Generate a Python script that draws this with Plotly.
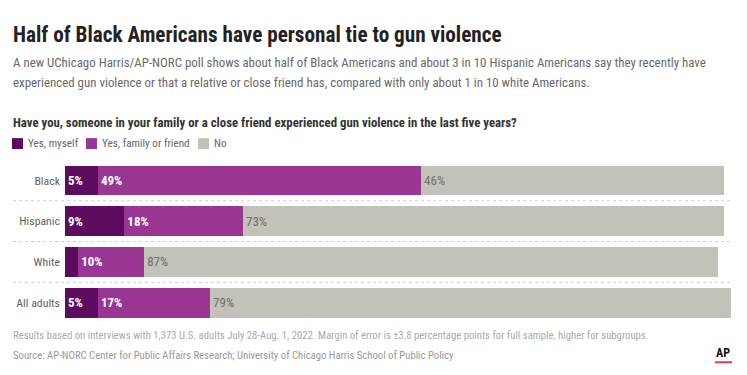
import plotly.graph_objects as go

# ---- data ----
categories = ["Black", "Hispanic", "White", "All adults"]
series_names = ["Yes, myself", "Yes, family or friend", "No"]
yes_myself = [5, 9, 2, 5]
yes_family = [49, 18, 10, 17]
no_answer = [46, 73, 87, 79]
series_values = [yes_myself, yes_family, no_answer]
series_colors = ["#5c0b5e", "#993593", "#c3c2b8"]
label_colors = ["#ffffff", "#ffffff", "#6e6e6e"]
label_bold = [True, True, False]

title = "Half of Black Americans have personal tie to gun violence"
subtitle_lines = [
    "A new UChicago Harris/AP-NORC poll shows about half of Black Americans and about 3 in 10 Hispanic Americans say they recently have",
    "experienced gun violence or that a relative or close friend has, compared with only about 1 in 10 white Americans.",
]
question = "Have you, someone in your family or a close friend experienced gun violence in the last five years?"
footnote = "Results based on interviews with 1,373 U.S. adults July 28-Aug. 1, 2022. Margin of error is ±3.8 percentage points for full sample, higher for subgroups."
source = "Source: AP-NORC Center for Public Affairs Research; University of Chicago Harris School of Public Policy"

FONT = "Roboto Condensed, Roboto, sans-serif"
W, H = 747, 375
ML, MR, MT, MB = 65, 16, 159.5, 51.5
PW, PH = W - ML - MR, H - MT - MB


def px(x):
    return (x - ML) / PW


def py(y):
    return (H - MB - y) / PH


fig = go.Figure()
for name, vals, col, lcol, bold in zip(series_names, series_values, series_colors, label_colors, label_bold):
    fig.add_trace(go.Bar(
        y=categories, x=vals, name=name, orientation="h",
        marker=dict(color=col, line=dict(width=0)),
        text=[f"{v}%" for v in vals],
        textposition="inside", insidetextanchor="start", textangle=0,
        insidetextfont=dict(family=FONT, size=13, color=lcol, weight="bold" if bold else "normal"),
        hoverinfo="skip", showlegend=False,
    ))

fig.update_layout(
    width=W, height=H, barmode="stack", bargap=0.27,
    margin=dict(l=ML, r=MR, t=MT, b=MB, pad=0),
    paper_bgcolor="white", plot_bgcolor="white",
    uniformtext=dict(minsize=13, mode="hide"),
    xaxis=dict(range=[0, 101], visible=False, fixedrange=True),
    yaxis=dict(autorange="reversed", categoryorder="array", categoryarray=categories,
               showgrid=False, zeroline=False, showline=False, ticks="", ticklabelstandoff=4,
               tickfont=dict(family=FONT, size=11.8, color="#5f5f5f"), fixedrange=True),
    font=dict(family=FONT),
)

# dotted separators between rows
for i in range(len(categories) - 1):
    fig.add_shape(type="line", xref="paper", yref="y", x0=px(13), x1=px(731), y0=i + 0.5, y1=i + 0.5,
                  line=dict(color="#cfcfcf", width=1, dash="dot"), layer="below")

ann = []


def text(x, y, s, size, color, bold=False, xanchor="left"):
    ann.append(dict(x=px(x), y=py(y), xref="paper", yref="paper", xanchor=xanchor, yanchor="middle",
                    showarrow=False, text=s, align="left",
                    font=dict(family=FONT, size=size, color=color, weight="bold" if bold else "normal")))


text(11, 33, title, 21.2, "#222222", bold=True)
text(11, 61.5, subtitle_lines[0], 12.9, "#6a6a6a")
text(11, 81.5, subtitle_lines[1], 12.9, "#6a6a6a")
text(11, 121.5, question, 12.8, "#333333", bold=True)

# legend (squares + labels)
legend_sq = [12, 86, 198]
for x0, name, col in zip(legend_sq, series_names, series_colors):
    fig.add_shape(type="rect", xref="paper", yref="paper", x0=px(x0), x1=px(x0 + 11), y0=py(148.5), y1=py(137.5),
                  fillcolor=col, line=dict(width=0))
    text(x0 + 13.5, 143, name, 11.2, "#666666")

text(11, 336, footnote, 10.7, "#aaaaaa")
text(11, 356, source, 10.7, "#999999")

# AP logo
text(723, 353.5, "AP", 12, "#111111", bold=True, xanchor="center")
fig.add_shape(type="line", xref="paper", yref="paper", x0=px(715), x1=px(732), y0=py(363), y1=py(363),
              line=dict(color="#e8374f", width=2))

fig.update_layout(annotations=ann)
fig.write_html("out.html", config={"displayModeBar": False, "staticPlot": True},
               post_script="document.body.style.margin='0';document.body.style.overflow='hidden';")
